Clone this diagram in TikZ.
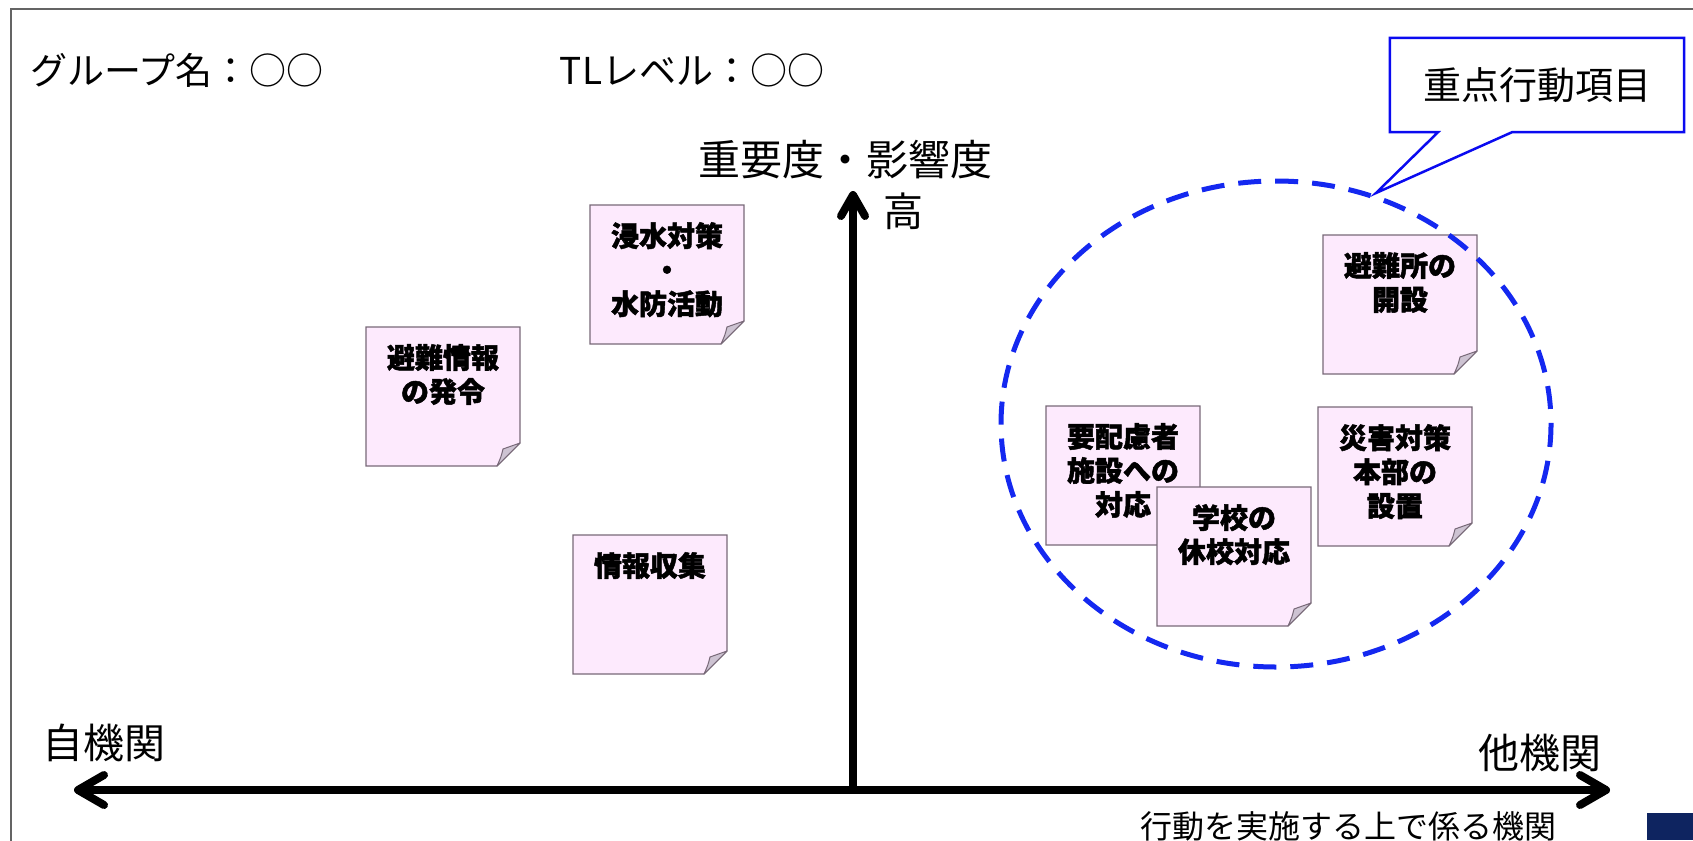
\documentclass[tikz,border=0pt]{standalone}
\usepackage{fontspec}
\setmainfont{Noto Sans CJK JP}[BoldFeatures={FakeBold=1.6}]
\usetikzlibrary{arrows.meta}
\definecolor{notefill}{RGB}{253,234,253}
\definecolor{noteedge}{RGB}{120,105,120}
\definecolor{foldfill}{RGB}{205,195,210}
\definecolor{calloutblue}{RGB}{10,10,240}
\definecolor{ellblue}{RGB}{20,40,240}
\definecolor{navybox}{RGB}{14,36,96}
\definecolor{framegray}{RGB}{100,100,100}
\tikzset{
  notebox/.style={draw=none, minimum width=154pt, minimum height=139pt, inner sep=0pt, outer sep=0pt},
  notepaper/.style={fill=notefill, draw=noteedge, line width=1.2pt, line join=miter},
  foldstyle/.style={fill=foldfill, draw=noteedge, line width=1pt, line join=round},
  notetext/.style={anchor=north, align=center, inner sep=0pt, font=\bfseries\fontsize{28}{34}\selectfont},
  lbl/.style={inner sep=0pt, font=\fontsize{37}{40}\selectfont},
  axisline/.style={line width=8pt, line cap=round},
  callout/.style={draw=calloutblue, fill=white, line width=2.5pt, line join=miter},
  dashring/.style={draw=ellblue, line width=5pt, dash pattern=on 23pt off 14pt}
}
\newcommand\stickynote[3]{%
  \node[notebox, anchor=north west] (#1) at (#2) {};
  \path[notepaper] (#1.north west) -- (#1.north east) -- ([yshift=23pt]#1.south east) -- ([xshift=-23pt]#1.south east) -- (#1.south west) -- cycle;
  \path[foldstyle] ([yshift=23pt]#1.south east) .. controls ([xshift=-8pt,yshift=20pt]#1.south east) .. ([xshift=-17pt,yshift=17pt]#1.south east) .. controls ([xshift=-19pt,yshift=9pt]#1.south east) .. ([xshift=-23pt]#1.south east) -- cycle;
  \node[notetext] (#1-t) at ([yshift=-17pt]#1.north) {#3};
}
\begin{document}
\begin{tikzpicture}[x=1pt,y=-1pt]
\useasboundingbox (0,0) rectangle (1693,840);
% frame
\draw[framegray, line width=1.5pt] (11,845) -- (11,9) -- (1698,9);
\fill[navybox] (1647,813) rectangle (1693,840);
% labels
\node[lbl] (grp) at (177,70) {グループ名：○○};
\node[lbl] (tl) at (692,70) {TLレベル：○○};
\node[lbl, font=\fontsize{42}{44}\selectfont] (ytitle) at (845,160) {重要度・影響度};
\node[lbl, font=\fontsize{40}{42}\selectfont] (hi) at (903,211) {高};
\node[lbl, font=\fontsize{41}{43}\selectfont] (self) at (104,743) {自機関};
\node[lbl, font=\fontsize{41}{43}\selectfont] (other) at (1540,753) {他機関};
\node[lbl, font=\fontsize{32}{34}\selectfont] (cap) at (1348,826) {行動を実施する上で係る機関};
% axes
\coordinate (o) at (853,788);
\coordinate (ytip) at (853,191);
\coordinate (xl) at (74,790);
\coordinate (xr) at (1610,790);
\draw[axisline, -{Straight Barb[length=21pt,width=24pt,line cap=round,line join=round]}] (o) -- (ytip);
\draw[axisline, {Straight Barb[length=26pt,width=30pt,line cap=round,line join=round]}-{Straight Barb[length=26pt,width=30pt,line cap=round,line join=round]}] (xl) -- (xr);
% notes
\stickynote{n1}{590,205}{浸水対策\\・\\水防活動}
\stickynote{n2}{366,327}{避難情報\\の発令}
\stickynote{n3}{573,535}{情報収集}
\stickynote{n6}{1323,235}{避難所の\\開設}
\stickynote{n7}{1318,407}{災害対策\\本部の\\設置}
\stickynote{n4}{1046,406}{要配慮者\\施設への\\対応}
\stickynote{n5}{1157,487}{学校の\\休校対応}
% callout
\node[minimum width=294pt, minimum height=94pt, inner sep=0pt] (cb) at (1537,85) {};
\coordinate (tailtip) at (1376,193);
\path[callout] (cb.north west) -- (cb.north east) -- (cb.south east) -- ([xshift=-25pt]cb.south) -- (tailtip) -- ([xshift=-99pt]cb.south) -- (cb.south west) -- cycle;
\node[lbl, font=\fontsize{38}{40}\selectfont] (cbt) at (cb.center) {重点行動項目};
% dashed ring
\draw[dashring] (1276,424) ellipse [x radius=275, y radius=243];
\end{tikzpicture}
\end{document}
